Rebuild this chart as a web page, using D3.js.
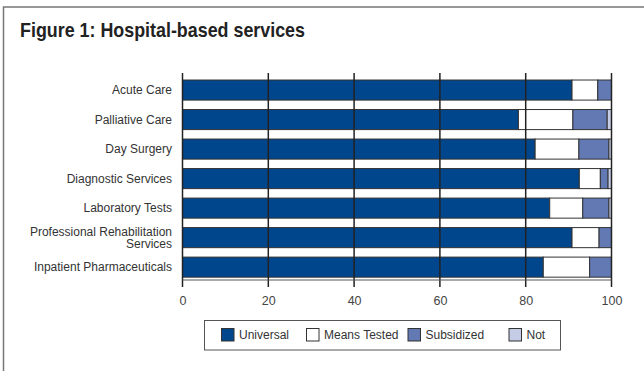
<!DOCTYPE html>
<html>
<head>
<meta charset="utf-8">
<script src="https://cdn.jsdelivr.net/npm/d3@7"></script>
<style>
  html, body { margin: 0; padding: 0; background: #fff; }
  svg { display: block; }
</style>
</head>
<body>
<svg id="chart" width="644" height="371"></svg>
<script>
// Services shown as rows, top to bottom
const categories = [
  "Acute Care",
  "Palliative Care",
  "Day Surgery",
  "Diagnostic Services",
  "Laboratory Tests",
  "Professional Rehabilitation Services",
  "Inpatient Pharmaceuticals"
];
// Share of provinces (%) per coverage type
const universal   = [90.8, 78.3, 82.2, 92.5, 85.6, 90.8, 84.1];
const meansTested = [ 6.0, 12.7, 10.2,  4.9,  7.7,  6.3, 10.8];
const subsidized  = [ 3.2,  8.0,  7.0,  1.8,  6.1,  2.9,  5.1];
const notCovered  = [ 0.0,  1.0,  0.6,  0.8,  0.6,  0.0,  0.0];
const seriesNames = ["Universal", "Means Tested", "Subsidized", "Not"];
const xTicks = [0, 20, 40, 60, 80, 100];

const colors = ["#00468c", "#ffffff", "#6279b4", "#c4cce6"];
const labelFont = "'Liberation Sans', Arial, sans-serif";

const rows = categories.map((c, i) => ({
  category: c,
  "Universal": universal[i],
  "Means Tested": meansTested[i],
  "Subsidized": subsidized[i],
  "Not": notCovered[i]
}));
const stacked = d3.stack().keys(seriesNames)(rows);

const svg = d3.select("#chart");

// Figure frame (only top and left edges fall inside the view)
svg.append("rect")
  .attr("x", 3.5).attr("y", 7)
  .attr("width", 700).attr("height", 400)
  .attr("fill", "none").attr("stroke", "#777").attr("stroke-width", 1.5);

// Condensed bold heading
svg.append("text")
  .attr("x", 20).attr("y", 37)
  .attr("font-family", "'Liberation Sans', Arial, sans-serif")
  .attr("font-weight", "bold")
  .attr("font-size", 21)
  .attr("fill", "#222")
  .attr("textLength", 285)
  .attr("lengthAdjust", "spacingAndGlyphs")
  .text("Figure 1: Hospital-based services");

const plotTop = 74, plotBottom = 280;
const x = d3.scaleLinear().domain([0, 100]).range([182.5, 611.5]);
const y = d3.scaleBand().domain(categories)
  .range([plotTop, plotBottom])
  .paddingInner(0.32).paddingOuter(0.15).align(0.68);

// Stacked bar segments
svg.append("g").selectAll("g")
  .data(stacked)
  .join("g")
  .attr("fill", (d, i) => colors[i])
  .selectAll("rect")
  .data(d => d.filter(s => s[1] - s[0] > 0))
  .join("rect")
  .attr("x", d => x(d[0]))
  .attr("y", d => y(d.data.category))
  .attr("width", d => x(d[1]) - x(d[0]))
  .attr("height", y.bandwidth())
  .attr("stroke", "#333")
  .attr("stroke-width", 1);

// Vertical gridlines over the bars, extending below as ticks
svg.append("g").selectAll("line")
  .data(xTicks)
  .join("line")
  .attr("x1", d => x(d)).attr("x2", d => x(d))
  .attr("y1", plotTop - 1).attr("y2", plotBottom + 7)
  .attr("stroke", "#222").attr("stroke-width", 1.5);

// Bottom axis line
svg.append("line")
  .attr("x1", x(0)).attr("x2", x(100))
  .attr("y1", plotBottom).attr("y2", plotBottom)
  .attr("stroke", "#555").attr("stroke-width", 1);

// X tick labels
const xAxis = d3.axisBottom(x).tickValues(xTicks).tickSize(0).tickPadding(0);
const gx = svg.append("g").attr("transform", `translate(0,${plotBottom + 21})`).call(xAxis);
gx.select(".domain").remove();
gx.selectAll("text")
  .attr("font-family", labelFont)
  .attr("font-size", 12.5)
  .attr("fill", "#444")
  .attr("dy", "0.35em");

// Category labels (wrapped where needed)
const labelLines = {
  "Professional Rehabilitation Services": ["Professional Rehabilitation", "Services"]
};
const gy = svg.append("g");
categories.forEach(c => {
  const lines = labelLines[c] || [c];
  const cy = y(c) + y.bandwidth() / 2;
  const t = gy.append("text")
    .attr("text-anchor", "end")
    .attr("font-family", labelFont)
    .attr("font-size", 12)
    .attr("fill", "#333");
  lines.forEach((ln, j) => {
    t.append("tspan")
      .attr("x", 172)
      .attr("y", cy + (j - (lines.length - 1) / 2) * 12.5)
      .attr("dy", "0.35em")
      .text(ln);
  });
});

// Legend
const legend = svg.append("g");
legend.append("rect")
  .attr("x", 204.5).attr("y", 320.5)
  .attr("width", 356).attr("height", 29.5)
  .attr("fill", "#fff").attr("stroke", "#555").attr("stroke-width", 1);
const legendX = [221, 306, 407.5, 508.5];
seriesNames.forEach((name, i) => {
  legend.append("rect")
    .attr("x", legendX[i] + 0.5).attr("y", 328.5)
    .attr("width", 12.5).attr("height", 12.5)
    .attr("fill", colors[i]).attr("stroke", "#333").attr("stroke-width", 1);
  legend.append("text")
    .attr("x", legendX[i] + 18).attr("y", 335)
    .attr("dy", "0.35em")
    .attr("font-family", labelFont)
    .attr("font-size", 12)
    .attr("fill", "#333")
    .text(name);
});
</script>
</body>
</html>
